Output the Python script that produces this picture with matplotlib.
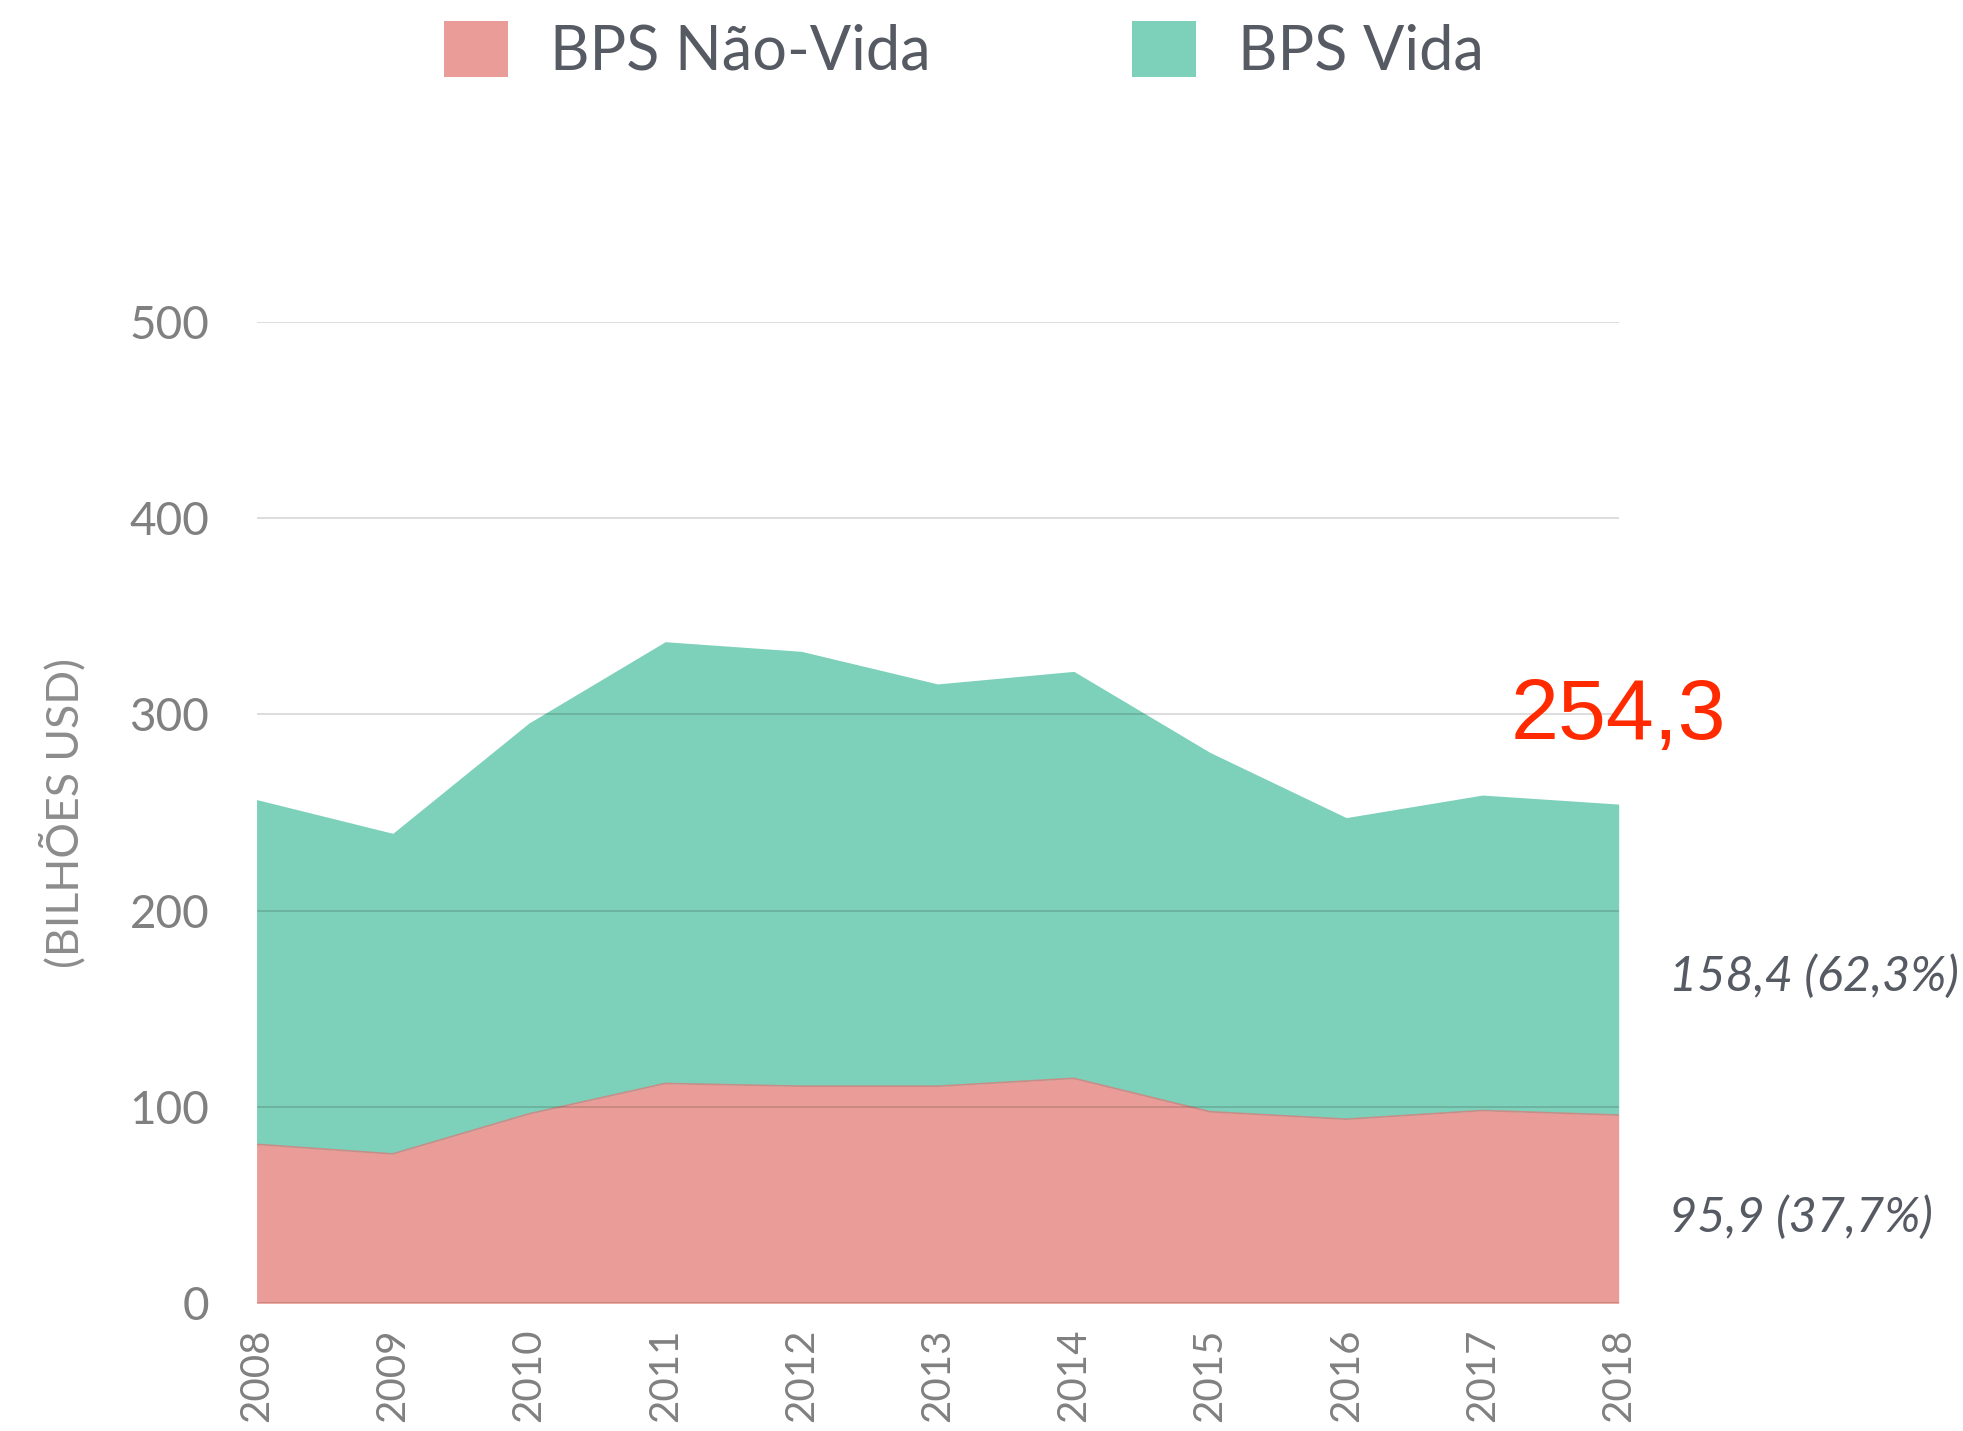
import numpy as np
import matplotlib.pyplot as plt
from matplotlib.patches import Patch

# Prémios brutos (BPS), em bilhões de USD
anos = np.array([2008, 2009, 2010, 2011, 2012, 2013, 2014, 2015, 2016, 2017, 2018])
bps_nao_vida = np.array([81.0, 76.1, 96.5, 112.0, 110.6, 110.6, 114.6, 97.6, 93.8, 98.2, 95.9])
bps_vida = np.array([175.6, 163.3, 199.1, 225.0, 221.5, 204.9, 207.3, 183.0, 153.6, 160.7, 158.4])
yticks = [0, 100, 200, 300, 400, 500]

cor_nao_vida = '#EA9D98'
cor_vida = '#7DD0B9'
cinza = '#808080'
cinza_texto = '#565A63'

fig = plt.figure(figsize=(19.63, 14.31), dpi=100)
ax = fig.add_axes([0.1307, 0.0892, 0.6939, 0.6860])

total = bps_nao_vida + bps_vida

# Áreas empilhadas
ax.fill_between(anos, 0, bps_nao_vida, color=cor_nao_vida, lw=0, zorder=1)
ax.plot(anos, bps_nao_vida, color='#C98C87', lw=1.2, zorder=2)
ax.fill_between(anos, bps_nao_vida, total, color=cor_vida, lw=0, zorder=1)

# Linhas de grade por cima das áreas
for v in yticks:
    ax.axhline(v, color='black', alpha=0.15, lw=1.3, zorder=3)

ax.set_xlim(anos[0], anos[-1])
ax.set_ylim(0, 500)
ax.set_xticks(anos)
ax.set_xticklabels([str(a) for a in anos], rotation=90, fontsize=29,
                   color=cinza, family='Lato', va='top')
ax.set_yticks(yticks)
ax.set_yticklabels([str(v) for v in yticks], fontsize=33, color=cinza, family='Lato')
ax.tick_params(axis='y', length=0, pad=34)
ax.tick_params(axis='x', length=0, pad=18)
for s in ax.spines.values():
    s.set_visible(False)

ax.set_ylabel('(BILHÕES USD)', fontsize=32, color='#8C8C8C', family='Lato', va='center')
ax.yaxis.set_label_coords(-0.142, 0.5)

# Anotações do último ano
ax.annotate(f'{total[-1]:.1f}'.replace('.', ','), xy=(anos[-1], total[-1]),
            xytext=(0, 47), textcoords='offset points', ha='center', va='baseline',
            fontsize=62, color='#FF2A00', family='Liberation Sans', annotation_clip=False)

pct_vida = bps_vida[-1] / total[-1] * 100
pct_nao_vida = bps_nao_vida[-1] / total[-1] * 100
txt_vida = f'{bps_vida[-1]:.1f} ({pct_vida:.1f}%)'.replace('.', ',')
txt_nao_vida = f'{bps_nao_vida[-1]:.1f} ({pct_nao_vida:.1f}%)'.replace('.', ',')
ax.annotate(txt_vida, xy=(anos[-1], bps_nao_vida[-1] + bps_vida[-1] / 2),
            xytext=(36, -12), textcoords='offset points', ha='left', va='center',
            fontsize=35, style='italic', color=cinza_texto, family='Lato',
            annotation_clip=False)
ax.annotate(txt_nao_vida, xy=(anos[-1], bps_nao_vida[-1] / 2),
            xytext=(36, -6), textcoords='offset points', ha='left', va='center',
            fontsize=35, style='italic', color=cinza_texto, family='Lato',
            annotation_clip=False)

# Legenda no topo
handles = [Patch(facecolor=cor_nao_vida, edgecolor='none', label='BPS Não-Vida'),
           Patch(facecolor=cor_vida, edgecolor='none', label='BPS Vida')]
leg = fig.legend(handles=handles, loc='upper center', bbox_to_anchor=(0.491, 1.007),
                 ncol=2, frameon=False, handlelength=1.05, handleheight=1.05,
                 handletextpad=0.68, columnspacing=3.3, borderpad=0,
                 prop={'family': 'Lato', 'size': 44})
for t in leg.get_texts():
    t.set_color(cinza_texto)

fig.savefig('out.png', dpi=100, facecolor='white')
